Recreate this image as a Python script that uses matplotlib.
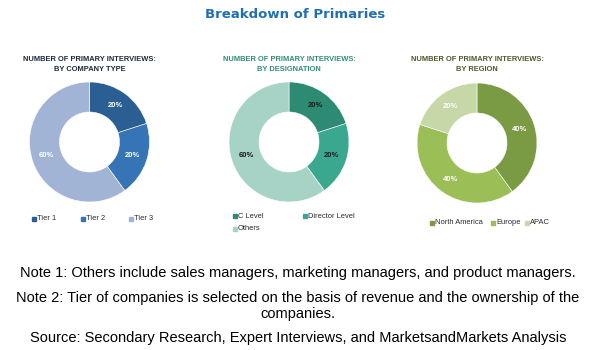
import matplotlib.pyplot as plt
import numpy as np

# data
company_labels = ['Tier 1', 'Tier 2', 'Tier 3']
company_vals = [20, 20, 60]
company_colors = ['#2b5f94', '#3574b5', '#a2b4d6']

design_labels = ['C Level', 'Director Level', 'Others']
design_vals = [20, 20, 60]
design_colors = ['#2d8a73', '#3aa88f', '#a7d3c7']

region_labels = ['North America', 'Europe', 'APAC']
region_vals = [40, 40, 20]
region_colors = ['#7b9a44', '#9bbe56', '#c6d8a7']

notes = [
    'Note 1: Others include sales managers, marketing managers, and product managers.',
    'Note 2: Tier of companies is selected on the basis of revenue and the ownership of the\ncompanies.',
    'Source: Secondary Research, Expert Interviews, and MarketsandMarkets Analysis',
]

plt.rcParams['font.family'] = ['Liberation Sans', 'DejaVu Sans']
W, H = 596, 350
fig = plt.figure(figsize=(W / 100, H / 100), dpi=100)

fig.text(295 / W, 1 - 15 / H, 'Breakdown of Primaries', ha='center', va='center',
         fontsize=9.5, fontweight='bold', color='#1f6fb4', family='DejaVu Sans')


def donut(cx, cy, vals, colors, title, tcolor, lblcolor):
    r = 60
    ax = fig.add_axes([(cx - r) / W, 1 - (cy + r) / H, 2 * r / W, 2 * r / H])
    ax.pie(vals, colors=colors, startangle=90, counterclock=False, radius=1,
           wedgeprops=dict(width=0.5, linewidth=0.4, edgecolor='white'))
    ax.set_xlim(-1, 1)
    ax.set_ylim(-1, 1)
    ax.set_aspect('equal')
    ax.axis('off')
    ang = 90
    for v in vals:
        mid = np.deg2rad(ang - v * 3.6 / 2)
        ax.text(0.75 * np.cos(mid), 0.75 * np.sin(mid), f'{v}%', ha='center', va='center',
                fontsize=5.5, fontweight='bold', color=lblcolor)
        ang -= v * 3.6
    fig.text(cx / W, 1 - 64.5 / H, title, ha='center', va='center', fontsize=5.4,
             fontweight='bold', color=tcolor, linespacing=1.45)
    return ax


donut(89.5, 142, company_vals, company_colors,
      'NUMBER OF PRIMARY INTERVIEWS:\nBY COMPANY TYPE', '#1e2a3a', 'white')
donut(289, 142, design_vals, design_colors,
      'NUMBER OF PRIMARY INTERVIEWS:\nBY DESIGNATION', '#2f8f78', '#1a1a1a')
donut(477, 143, region_vals, region_colors,
      'NUMBER OF PRIMARY INTERVIEWS:\nBY REGION', '#4a5a2a', 'white')


def legend(items, colors, positions):
    for (x, y), lab, c in zip(positions, items, colors):
        fig.patches.append(plt.Rectangle((x / W, 1 - (y + 2) / H), 4 / W, 4 / H,
                                         transform=fig.transFigure, color=c))
        fig.text((x + 5) / W, 1 - y / H, lab, ha='left', va='center', fontsize=5.4, color='#2a2a2a')


legend(company_labels, company_colors, [(32, 219), (81, 219), (129, 219)])
legend(design_labels, design_colors, [(233, 216), (303, 216), (233, 229)])
legend(region_labels, region_colors, [(430, 223), (491, 223), (525, 223)])

fig.text(0.5, 1 - 273 / H, notes[0], ha='center', va='center', fontsize=10.5, color='black')
fig.text(0.5, 1 - 306 / H, notes[1], ha='center', va='center', fontsize=10.5, color='black',
         linespacing=1.25)
fig.text(0.5, 1 - 338 / H, notes[2], ha='center', va='center', fontsize=10.5, color='black')

fig.savefig('out.png', dpi=100)
